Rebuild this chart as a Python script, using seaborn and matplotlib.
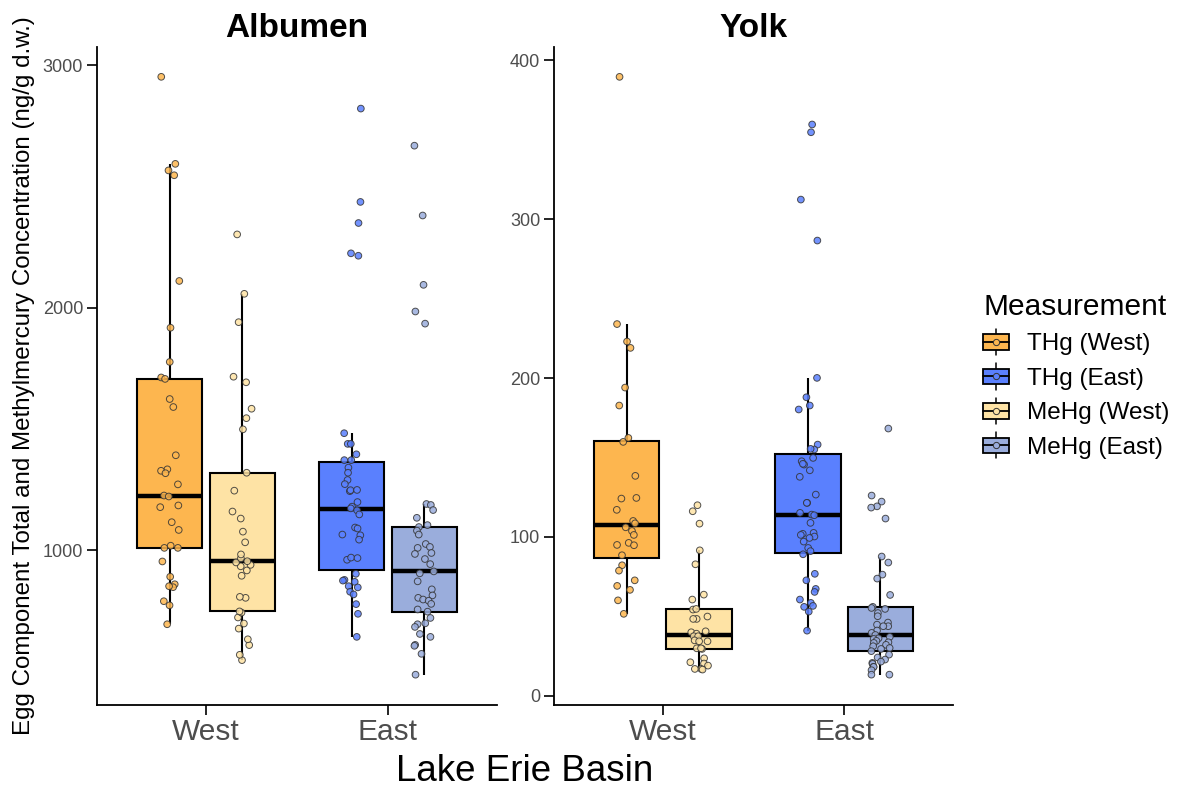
import numpy as np
import pandas as pd
import seaborn as sns
import matplotlib
matplotlib.use("Agg")
import matplotlib.pyplot as plt
from matplotlib.patches import Patch, Rectangle
from matplotlib.lines import Line2D
from matplotlib.legend_handler import HandlerBase

# values (ng/g d.w.)
alb_thg_west = [2953, 2594, 2567, 2547, 2111, 1918, 1777, 1713, 1707, 1624, 1591, 1392, 1334,
                1328, 1318, 1272, 1226, 1222, 1185, 1178, 1116, 1084, 1010, 1019, 1010, 954,
                891, 860, 848, 852, 790, 773, 695]
alb_mehg_west = [547, 569, 609, 633, 677, 698, 723, 743, 748, 804, 808, 895, 917, 934, 940, 950,
                 955, 967, 983, 1033, 1077, 1131, 1160, 1246, 1320, 1499, 1545, 1584, 1693,
                 1716, 1941, 2058, 2303]
alb_thg_east = [2822, 2437, 2350, 2225, 2215, 1483, 1439, 1439, 1396, 1372, 1372, 1341, 1320,
                1290, 1273, 1244, 1248, 1249, 1199, 1180, 1173, 1165, 1148, 1094, 1090, 1062,
                1065, 1044, 961, 970, 968, 903, 878, 870, 875, 852, 847, 829, 818, 778, 738, 643]
alb_mehg_east = [2669, 2381, 2095, 1985, 1935, 1191, 1187, 1166, 1134, 1096, 1104, 1081, 1065,
                 1026, 1010, 1014, 989, 985, 964, 943, 913, 905, 872, 839, 814, 804, 797, 792,
                 779, 756, 747, 721, 699, 695, 684, 655, 643, 610, 606, 573, 487]

yolk_thg_west = [389.7, 234, 223, 219, 194, 182.7, 159.8, 162.3, 138.4, 124.5, 124.1, 117, 110,
                 108.5, 106, 103.7, 101.2, 96.2, 94.7, 94.9, 88.4, 82.1, 78.7, 72.6, 69.1, 66.6,
                 60, 51.5]
yolk_mehg_west = [119.9, 116.1, 108.3, 91.5, 82.7, 63.6, 60.5, 54.2, 54.6, 48.3, 48.3, 49.8,
                  40.5, 39.9, 39, 37.4, 37.4, 34.8, 34.2, 34.2, 29.8, 29.4, 29.8, 23.5, 21, 20.2,
                  18.9, 16.8, 16.8, 16.4]
yolk_thg_east = [359.7, 354.8, 312.4, 286.6, 200.1, 187.9, 182.7, 180.2, 158.1, 155, 155.4,
                 149.7, 147.6, 145.5, 146, 141.9, 137.8, 126.6, 121.4, 121.4, 115.1, 114, 113.6,
                 108.8, 101.9, 102.5, 101.2, 100.2, 99.3, 97, 93, 91, 89, 76.7, 72.6, 67.2,
                 65.3, 60.5, 58.4, 55.9, 56.5, 52.9, 40.9]
yolk_mehg_east = [168.2, 126, 122.2, 119.2, 118.4, 111.5, 87.6, 83.8, 76.2, 73.7, 63.4, 55.9,
                  55.2, 54.6, 52, 50, 46, 44.7, 43.7, 43.7, 41, 39.5, 38.2, 37, 36.1, 35.7, 34.5,
                  33.6, 33.2, 32, 31.1, 30, 29.4, 28, 25.8, 24, 22.7, 21.4, 20.6, 20, 18.1, 18.1,
                  16, 13.2, 13.2]

panels = ["Albumen", "Yolk"]
basins = ["West", "East"]
types = ["THg", "MeHg"]
colors = {("THg", "West"): "#FDB64F", ("THg", "East"): "#5A80FE",
          ("MeHg", "West"): "#FEE3A5", ("MeHg", "East"): "#9AADDC"}
legend_labels = ["THg (West)", "THg (East)", "MeHg (West)", "MeHg (East)"]

values = {
    ("Albumen", "West", "THg"): alb_thg_west, ("Albumen", "West", "MeHg"): alb_mehg_west,
    ("Albumen", "East", "THg"): alb_thg_east, ("Albumen", "East", "MeHg"): alb_mehg_east,
    ("Yolk", "West", "THg"): yolk_thg_west, ("Yolk", "West", "MeHg"): yolk_mehg_west,
    ("Yolk", "East", "THg"): yolk_thg_east, ("Yolk", "East", "MeHg"): yolk_mehg_east,
}
rows = []
for (tissue, basin, kind), vals in values.items():
    for v in vals:
        rows.append({"Tissue": tissue, "Basin": basin, "Type": kind, "Conc": v})
df = pd.DataFrame(rows)

sns.set_style("ticks")
plt.rcParams["font.family"] = ["Liberation Sans", "DejaVu Sans"]
plt.rcParams["text.color"] = "black"
np.random.seed(7)

fig = plt.figure(figsize=(11.86, 7.88), dpi=100)
W, H = 1186, 788
ax_alb = fig.add_axes([97 / W, 1 - 704.5 / H, 400 / W, 657.5 / H])
ax_yolk = fig.add_axes([554 / W, 1 - 704.5 / H, 399 / W, 657.5 / H])


def draw_panel(ax, tissue, ylim, yticks):
    sub = df[df.Tissue == tissue]
    for basin in basins:
        part = sub[sub.Basin == basin]
        pal = {t: colors[(t, basin)] for t in types}
        sns.boxplot(data=part, x="Basin", y="Conc", hue="Type", order=basins, hue_order=types,
                    palette=pal, dodge=True, width=0.8, gap=0.1, showfliers=False,
                    showcaps=False, linecolor="black", linewidth=1.5, saturation=1,
                    medianprops={"linewidth": 3.2}, legend=False, ax=ax)
        sns.stripplot(data=part, x="Basin", y="Conc", hue="Type", order=basins, hue_order=types,
                      palette=pal, dodge=True, jitter=0.11, size=4.8, linewidth=0.7,
                      edgecolor="#333333", alpha=0.85, legend=False, zorder=3, ax=ax)
    ax.set_xlim(-0.6, 1.6)
    ax.set_ylim(*ylim)
    ax.set_yticks(yticks)
    ax.set_xlabel("")
    ax.set_ylabel("")
    ax.set_title(tissue, fontsize=24, fontweight="bold", pad=7, color="black")
    sns.despine(ax=ax)
    for s in ["left", "bottom"]:
        ax.spines[s].set_linewidth(1.3)
        ax.spines[s].set_color("black")
    ax.tick_params(axis="y", labelsize=13, labelcolor="#4D4D4D", color="black",
                   length=7, width=1.2, pad=3)
    ax.tick_params(axis="x", labelsize=21.5, labelcolor="#4D4D4D", color="black",
                   length=7, width=1.2, pad=3)


draw_panel(ax_alb, "Albumen", (364, 3076), [1000, 2000, 3000])
draw_panel(ax_yolk, "Yolk", (-5.6, 408.5), [0, 100, 200, 300, 400])

fig.text(24 / W, 1 - 376 / H, "Egg Component Total and Methylmercury Concentration (ng/g d.w.)",
         rotation=90, ha="center", va="center", fontsize=17.4, color="black")
fig.text(525 / W, 7 / H, "Lake Erie Basin", ha="center", va="baseline", fontsize=26.5,
         color="black")


class BoxKey(HandlerBase):
    def create_artists(self, legend, orig_handle, xdescent, ydescent, width, height,
                       fontsize, trans):
        fc = orig_handle.get_facecolor()
        x0, y0 = -xdescent, -ydescent
        cx, cy = x0 + width / 2, y0 + height / 2
        box = Rectangle((x0, y0 + height * 0.15), width, height * 0.7, facecolor=fc,
                        edgecolor="black", lw=1.3, transform=trans)
        wl = Line2D([cx, cx], [y0 - height * 0.1, y0 + height * 1.1], color="black", lw=1.1,
                    transform=trans, zorder=0)
        med = Line2D([x0, x0 + width], [cy, cy], color="black", lw=1.3, transform=trans)
        pt = Line2D([cx], [cy], marker="o", ms=4.5, mfc=fc, mec="#333333", mew=0.7,
                    transform=trans)
        return [wl, box, med, pt]


handles = [Patch(facecolor=colors[(t, b)]) for t in types for b in basins]
leg = fig.legend(handles, legend_labels, handler_map={Patch: BoxKey()},
                 loc="upper left", bbox_to_anchor=(983 / W, 1 - 293 / H), frameon=False,
                 title="Measurement", fontsize=17.5, title_fontsize=21.5,
                 handlelength=1.05, handleheight=1.0, handletextpad=0.75,
                 labelspacing=0.42, borderpad=0, borderaxespad=0)
leg._legend_box.align = "left"
leg.get_title().set_color("black")
for t in leg.get_texts():
    t.set_color("black")

fig.savefig("out.png", dpi=100)
